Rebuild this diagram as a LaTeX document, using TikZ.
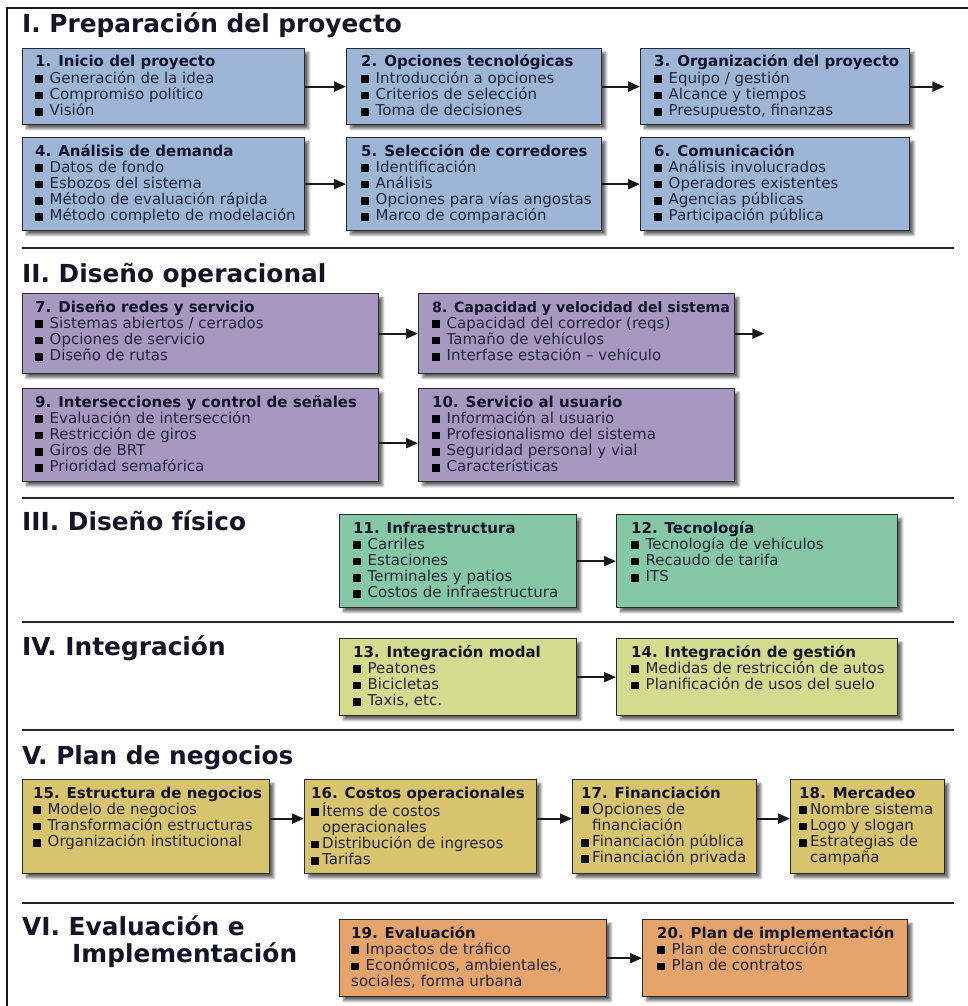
\documentclass[tikz,border=0pt]{standalone}
\usepackage{fontspec}
\setmainfont{DejaVu Sans}
\usetikzlibrary{arrows.meta,shadows.blur}

\definecolor{fillI}{HTML}{9DB5D7}
\definecolor{fillII}{HTML}{A698C0}
\definecolor{fillIII}{HTML}{86C8A6}
\definecolor{fillIV}{HTML}{D3DC8E}
\definecolor{fillV}{HTML}{D8C36F}
\definecolor{fillVI}{HTML}{E4A46C}
\definecolor{ink}{HTML}{141428}
\definecolor{bodyc}{HTML}{25253A}
\definecolor{edgec}{HTML}{2A2A2A}

% box text helpers
\newcommand\boxhead[1]{\hbox{\fontsize{15}{16.2}\selectfont\bfseries\color{ink}#1}}
\newcommand\boxheadn[1]{\hbox{\fontsize{14.2}{16.2}\selectfont\bfseries\color{ink}#1}}
\newcommand\bulsq{{\color{black}\rule{8pt}{7.8pt}}}
\newcommand\boxitem[1]{\hbox{\bulsq\hspace{6.5pt}#1}}
\newcommand\boxcont[1]{\hbox{\hspace*{14.5pt}#1}}
\newcommand\boxitemc[1]{\hbox{\bulsq\hspace{3pt}#1}}
\newcommand\boxcontc[1]{\hbox{\hspace*{11pt}#1}}
\newcommand\boxplain[1]{\hbox{#1}}

\tikzset{
  panel/.style={rectangle, draw=edgec, line width=1.3pt, inner sep=0pt,
    anchor=north west,
    blur shadow={shadow xshift=4pt, shadow yshift=-4pt, shadow blur radius=2.5pt,
      shadow blur steps=6, shadow opacity=60}},
  paneltext/.style={anchor=base west, inner sep=0pt, text=bodyc,
    font=\fontsize{15}{16.2}\selectfont},
  flow/.style={line width=2pt, draw=black!90, -{Triangle[length=12pt,width=10pt]}},
  sectitle/.style={anchor=base west, inner sep=0pt, text=ink,
    font=\fontsize{24.8}{28}\selectfont\bfseries},
  sepline/.style={line width=1.6pt, draw=black!85},
  framel/.style={line width=2pt, draw=black!90},
}

% name, x1, y1, x2, y2, fill, inset, lines
\newcommand\mkpanel[8]{%
  \node[panel, fill=#6, minimum width={(#4-#2)*1pt}, minimum height={(#5-#3)*1pt}]
    (#1) at (#2,#3) {};
  \node[paneltext] (#1t) at (#2+#7,#3+19) {\vtop{#8}};
}

\begin{document}
\begin{tikzpicture}[x=1pt,y=-1pt]
\useasboundingbox (0,0) rectangle (968,1006);

% outer frame
\draw[framel] (7,1006) -- (7,8) -- (968,8);

% section rules
\foreach \yy in {248,498,622,730,903}
  \draw[sepline] (22,\yy) -- (954,\yy);

% section titles
\node[sectitle] (tI)   at (22,33)  {I. Preparación del proyecto};
\node[sectitle] (tII)  at (22,282) {II. Diseño operacional};
\node[sectitle] (tIII) at (22,530) {III. Diseño físico};
\node[sectitle] (tIV)  at (22,655) {IV. Integración};
\node[sectitle] (tV)   at (22,764) {V. Plan de negocios};
\node[sectitle] (tVIa) at (22,935) {VI. Evaluación e};
\node[sectitle] (tVIb) at (72,962) {Implementación};

% I. Preparación del proyecto
\mkpanel{b1}{22}{48}{304}{124}{fillI}{13}{%
  \boxhead{1. Inicio del proyecto}
  \boxitem{Generación de la idea}
  \boxitem{Compromiso político}
  \boxitem{Visión}}
\mkpanel{b2}{346}{48}{601}{124}{fillI}{15}{%
  \boxhead{2. Opciones tecnológicas}
  \boxitem{Introducción a opciones}
  \boxitem{Criterios de selección}
  \boxitem{Toma de decisiones}}
\mkpanel{b3}{640}{48}{909}{124}{fillI}{14}{%
  \boxhead{3. Organización del proyecto}
  \boxitem{Equipo / gestión}
  \boxitem{Alcance y tiempos}
  \boxitem{Presupuesto, finanzas}}
\mkpanel{b4}{22}{137}{304}{230}{fillI}{13}{%
  \boxhead{4. Análisis de demanda}
  \boxitem{Datos de fondo}
  \boxitem{Esbozos del sistema}
  \boxitem{Método de evaluación rápida}
  \boxitem{Método completo de modelación}}
\mkpanel{b5}{346}{137}{601}{230}{fillI}{15}{%
  \boxhead{5. Selección de corredores}
  \boxitem{Identificación}
  \boxitem{Análisis}
  \boxitem{Opciones para vías angostas}
  \boxitem{Marco de comparación}}
\mkpanel{b6}{640}{137}{909}{230}{fillI}{14}{%
  \boxhead{6. Comunicación}
  \boxitem{Análisis involucrados}
  \boxitem{Operadores existentes}
  \boxitem{Agencias públicas}
  \boxitem{Participación pública}}

% II. Diseño operacional
\mkpanel{b7}{22}{293}{378}{373}{fillII}{13}{%
  \boxhead{7. Diseño redes y servicio}
  \boxitem{Sistemas abiertos / cerrados}
  \boxitem{Opciones de servicio}
  \boxitem{Diseño de rutas}}
\mkpanel{b8}{418}{293}{734}{373}{fillII}{14}{%
  \boxheadn{8. Capacidad y velocidad del sistema}
  \boxitem{Capacidad del corredor (reqs)}
  \boxitem{Tamaño de vehículos}
  \boxitem{Interfase estación – vehículo}}
\mkpanel{b9}{22}{388}{378}{481}{fillII}{13}{%
  \boxhead{9. Intersecciones y control de señales}
  \boxitem{Evaluación de intersección}
  \boxitem{Restricción de giros}
  \boxitem{Giros de BRT}
  \boxitem{Prioridad semafórica}}
\mkpanel{b10}{418}{388}{734}{481}{fillII}{14}{%
  \boxhead{10. Servicio al usuario}
  \boxitem{Información al usuario}
  \boxitem{Profesionalismo del sistema}
  \boxitem{Seguridad personal y vial}
  \boxitem{Características}}

% III. Diseño físico
\mkpanel{b11}{339}{514}{576}{607}{fillIII}{14}{%
  \boxhead{11. Infraestructura}
  \boxitem{Carriles}
  \boxitem{Estaciones}
  \boxitem{Terminales y patios}
  \boxitem{Costos de infraestructura}}
\mkpanel{b12}{616}{514}{897}{607}{fillIII}{15}{%
  \boxhead{12. Tecnología}
  \boxitem{Tecnología de vehículos}
  \boxitem{Recaudo de tarifa}
  \boxitem{ITS}}

% IV. Integración
\mkpanel{b13}{339}{638}{576}{715}{fillIV}{14}{%
  \boxhead{13. Integración modal}
  \boxitem{Peatones}
  \boxitem{Bicicletas}
  \boxitem{Taxis, etc.}}
\mkpanel{b14}{616}{638}{897}{715}{fillIV}{15}{%
  \boxhead{14. Integración de gestión}
  \boxitem{Medidas de restricción de autos}
  \boxitem{Planificación de usos del suelo}}

% V. Plan de negocios
\mkpanel{b15}{22}{779}{269}{873}{fillV}{11}{%
  \boxhead{15. Estructura de negocios}
  \boxitem{Modelo de negocios}
  \boxitem{Transformación estructuras}
  \boxitem{Organización institucional}}
\mkpanel{b16}{304}{779}{536}{873}{fillV}{7}{%
  \boxhead{16. Costos operacionales}
  \boxitemc{Ítems de costos}
  \boxcontc{operacionales}
  \boxitemc{Distribución de ingresos}
  \boxitemc{Tarifas}}
\mkpanel{b17}{572}{779}{756}{873}{fillV}{9}{%
  \boxhead{17. Financiación}
  \boxitemc{Opciones de}
  \boxcontc{financiación}
  \boxitemc{Financiación pública}
  \boxitemc{Financiación privada}}
\mkpanel{b18}{790}{779}{944}{873}{fillV}{9}{%
  \boxhead{18. Mercadeo}
  \boxitemc{Nombre sistema}
  \boxitemc{Logo y slogan}
  \boxitemc{Estrategias de}
  \boxcontc{campaña}}

% VI. Evaluación e Implementación
\mkpanel{b19}{339}{919}{606}{996}{fillVI}{12}{%
  \boxhead{19. Evaluación}
  \boxitem{Impactos de tráfico}
  \boxitem{Económicos, ambientales,}
  \boxplain{sociales, forma urbana}}
\mkpanel{b20}{642}{919}{907}{996}{fillVI}{15}{%
  \boxhead{20. Plan de implementación}
  \boxitem{Plan de construcción}
  \boxitem{Plan de contratos}}

% open ends of the outgoing arrows
\coordinate (out3) at ([xshift=34pt]b3.east);
\coordinate (out8) at ([xshift=29pt]b8.east);

% connectors
\draw[flow] (b1.east) -- (b2.west);
\draw[flow] (b2.east) -- (b3.west);
\draw[flow] (b3.east) -- (out3);
\draw[flow] (b4.east) -- (b5.west);
\draw[flow] (b5.east) -- (b6.west);
\draw[flow] (b7.east) -- (b8.west);
\draw[flow] (b8.east) -- (out8);
\draw[flow] ([yshift=-8pt]b9.east) -- ([yshift=-8pt]b10.west);
\draw[flow] (b11.east) -- (b12.west);
\draw[flow] (b13.east) -- (b14.west);
\draw[flow] ([yshift=8pt]b15.east) -- ([yshift=8pt]b16.west);
\draw[flow] ([yshift=8pt]b16.east) -- ([yshift=8pt]b17.west);
\draw[flow] ([yshift=8pt]b17.east) -- ([yshift=8pt]b18.west);
\draw[flow] (b19.east) -- (b20.west);
\end{tikzpicture}
\end{document}
